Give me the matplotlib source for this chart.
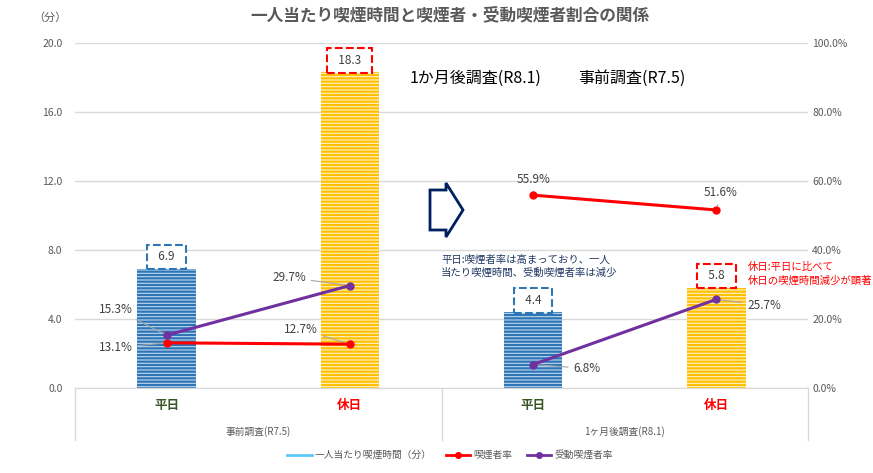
import matplotlib
matplotlib.use("Agg")
import matplotlib.pyplot as plt
from matplotlib.lines import Line2D
from matplotlib.patches import Polygon
import numpy as np

plt.rcParams['font.family'] = ['Noto Sans CJK JP', 'DejaVu Sans']
plt.rcParams['hatch.linewidth'] = 1.6

# ---- data ----
categories = ['平日', '休日', '平日', '休日']
category_colors = ['#375623', '#FF0000', '#375623', '#FF0000']
groups = ['事前調査(R7.5)', '1ヶ月後調査(R8.1)']
smoke_time = [6.9, 18.3, 4.4, 5.8]            # 一人当たり喫煙時間（分）
smoker_rate = [13.1, 12.7, 55.9, 51.6]        # 喫煙者率 (%)
passive_rate = [15.3, 29.7, 6.8, 25.7]        # 受動喫煙者率 (%)
left_ticks = [0, 4, 8, 12, 16, 20]
right_ticks = [0, 20, 40, 60, 80, 100]

W, H = 873, 473
fig = plt.figure(figsize=(W / 100, H / 100), dpi=100)
L, R, T, B = 75, 808, 43, 388
ax = fig.add_axes([L / W, 1 - B / H, (R - L) / W, (B - T) / H])
ax2 = ax.twinx()

x = np.arange(4)
bar_face = ['#BDD7EE', '#FFF2CC', '#BDD7EE', '#FFF2CC']
bar_hatch = ['#2E75B6', '#FFC000', '#2E75B6', '#FFC000']
for i in range(4):
    ax.bar(x[i], smoke_time[i], width=0.32, color=bar_face[i], edgecolor=bar_hatch[i],
           hatch='-----', linewidth=0, zorder=2)

ax.set_xlim(-0.5, 3.5)
ax.set_ylim(0, 20)
ax.set_yticks(left_ticks)
ax.set_yticklabels([f'{v:.1f}' for v in left_ticks])
ax2.set_ylim(0, 100)
ax2.set_yticks(right_ticks)
ax2.set_yticklabels([f'{v:.1f}%' for v in right_ticks])
ax.grid(axis='y', color='#D9D9D9', linewidth=1, zorder=0)
ax.set_axisbelow(True)
for a in (ax, ax2):
    for s in a.spines.values():
        s.set_visible(False)
    a.tick_params(axis='both', length=0, labelsize=7.5, labelcolor='#595959')
ax.tick_params(axis='y', pad=9)
ax2.tick_params(axis='y', pad=3)
ax.spines['bottom'].set_visible(True)
ax.spines['bottom'].set_color('#D9D9D9')
ax.set_xticks([])

# category labels
for i in range(4):
    ax.annotate(categories[i], (x[i], 0), xycoords=('data', 'axes fraction'),
                xytext=(0, -17), textcoords='offset pixels', ha='center', va='center',
                fontsize=9, fontweight='bold', color=category_colors[i])
for g, gx in zip(groups, [0.5, 2.5]):
    ax.annotate(g, (gx, 0), xycoords=('data', 'axes fraction'),
                xytext=(0, -44), textcoords='offset pixels', ha='center', va='center',
                fontsize=7, color='#595959')
for fx in [0, 0.5, 1]:
    ax.plot([fx, fx], [0, -52 / 345], transform=ax.transAxes, color='#D9D9D9',
            linewidth=1, clip_on=False)

# lines (two separate groups)
for gi in range(2):
    idx = [2 * gi, 2 * gi + 1]
    ax2.plot(x[idx], [smoker_rate[j] for j in idx], color='#FF0000', linewidth=2.2,
             marker='o', markersize=5, zorder=5)
    ax2.plot(x[idx], [passive_rate[j] for j in idx], color='#7030A0', linewidth=2.2,
             marker='o', markersize=5, zorder=5)

# line data labels
lab_kw = dict(textcoords='offset pixels', fontsize=8.5, color='#404040', ha='center', va='center',
              arrowprops=dict(arrowstyle='-', color='#A6A6A6', lw=0.8, shrinkA=2, shrinkB=3))
smoker_off = [(-51, -5), (-49, 15), (0, 16), (4, 17)]
passive_off = [(-51, 26), (-61, 8), (54, -4), (48, -6)]
for i in range(4):
    ax2.annotate(f'{smoker_rate[i]:.1f}%', (x[i], smoker_rate[i]), xytext=smoker_off[i], **lab_kw)
    ax2.annotate(f'{passive_rate[i]:.1f}%', (x[i], passive_rate[i]), xytext=passive_off[i], **lab_kw)

# bar value labels with dashed boxes
box_colors = ['#2E75B6', '#FF0000', '#2E75B6', '#FF0000']
for i in range(4):
    ax.annotate(f'  {smoke_time[i]:.1f}  ', (x[i], smoke_time[i]), xytext=(0, 12),
                textcoords='offset pixels', ha='center', va='center', fontsize=8.5,
                color='#404040', zorder=6,
                bbox=dict(boxstyle='square,pad=0.5', facecolor='white',
                          edgecolor=box_colors[i], linestyle='--', linewidth=1.5))

# titles and notes
fig.text(450 / W, 1 - 15 / H, '一人当たり喫煙時間と喫煙者・受動喫煙者割合の関係', ha='center',
         va='center', fontsize=12, fontweight='bold', color='#595959')
fig.text(50 / W, 1 - 18 / H, '（分）', ha='center', va='center', fontsize=8, color='#595959')
fig.text(410 / W, 1 - 78 / H, '1か月後調査(R8.1)', ha='left', va='center', fontsize=11.5, color='black')
fig.text(578 / W, 1 - 78 / H, '事前調査(R7.5)', ha='left', va='center', fontsize=11.5, color='black')
fig.text(441 / W, 1 - 266 / H, '平日:喫煙者率は高まっており、一人\n当たり喫煙時間、受動喫煙者率は減少',
         ha='left', va='center', fontsize=7.5, color='#203864', linespacing=1.35)
fig.text(748 / W, 1 - 274 / H, '休日:平日に比べて\n休日の喫煙時間減少が顕著',
         ha='left', va='center', fontsize=7.5, color='#FF0000', linespacing=1.35)

# block arrow
pts = [(430, 190), (446, 190), (446, 183), (463, 210), (446, 237), (446, 230), (430, 230)]
fig.patches.append(Polygon([(px / W, 1 - py / H) for px, py in pts], closed=True,
                           transform=fig.transFigure, facecolor='white',
                           edgecolor='#002060', linewidth=2))

# legend
handles = [Line2D([], [], color='#5BC8F5', linewidth=2),
           Line2D([], [], color='#FF0000', linewidth=2, marker='o', markersize=4),
           Line2D([], [], color='#7030A0', linewidth=2, marker='o', markersize=4)]
fig.legend(handles, ['一人当たり喫煙時間（分）', '喫煙者率', '受動喫煙者率'], loc='center',
           bbox_to_anchor=(450 / W, 1 - 455 / H), ncol=3, frameon=False, fontsize=7,
           labelcolor='#595959', handlelength=2.5, columnspacing=1.5, handletextpad=0.3)

fig.savefig('out.png', dpi=100)
